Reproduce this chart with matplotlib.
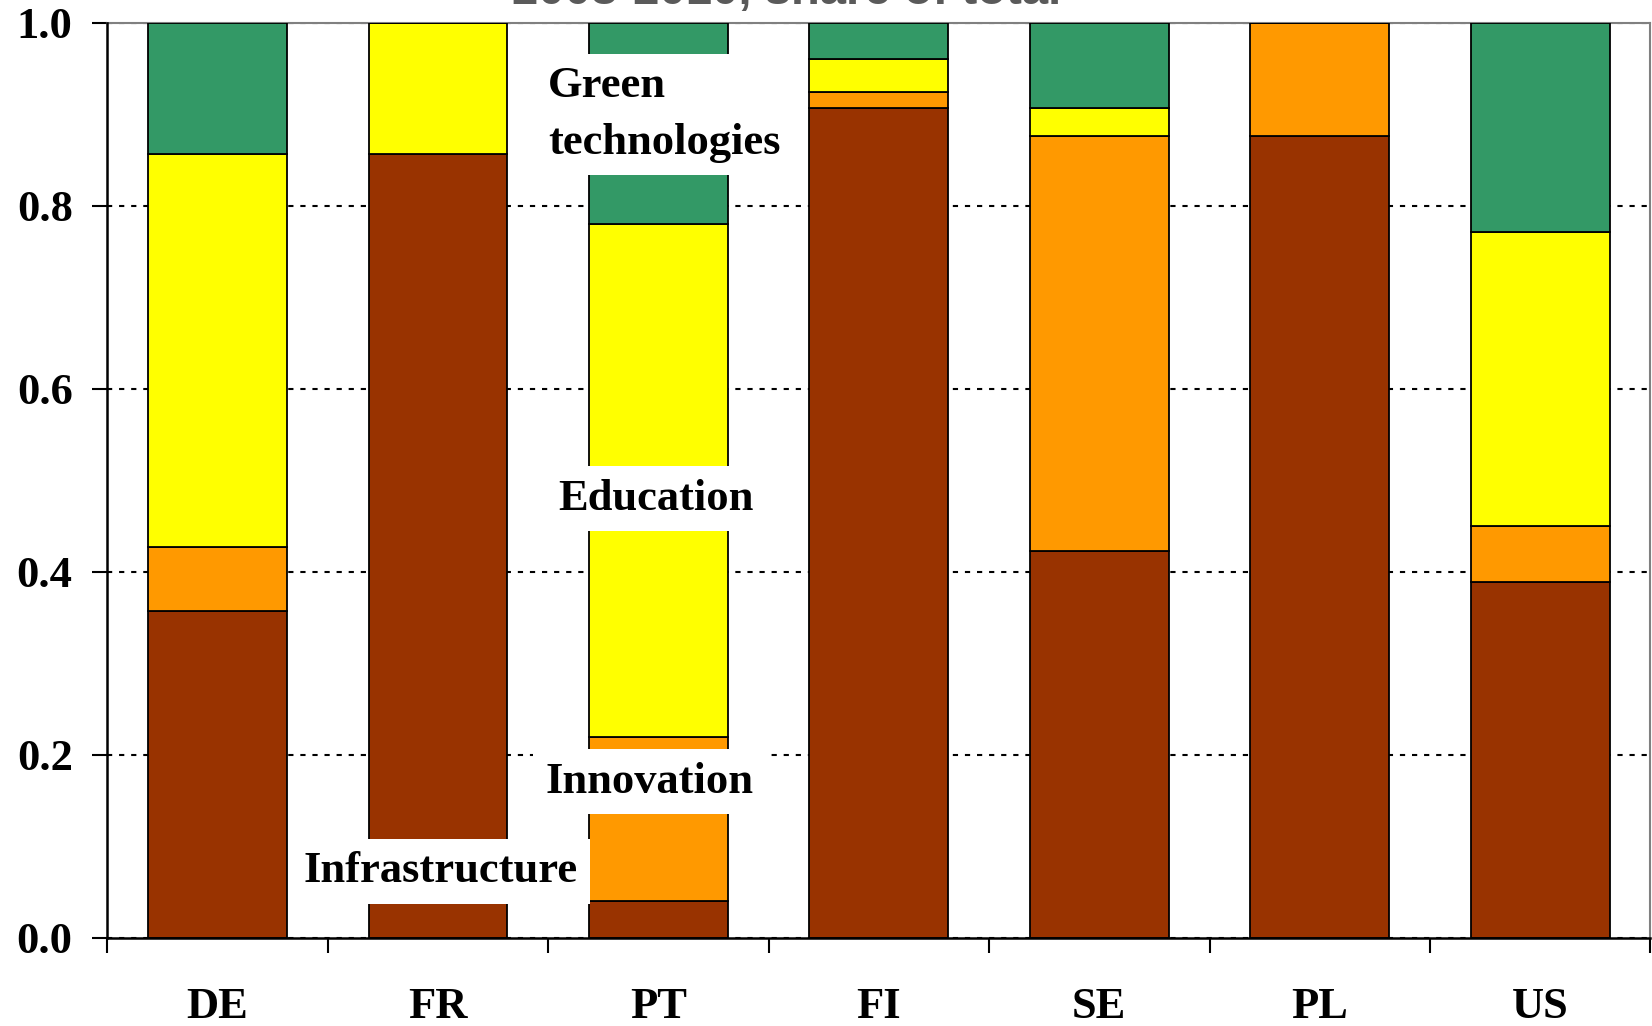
import numpy as np
import matplotlib.pyplot as plt
from matplotlib.ticker import FixedLocator, NullFormatter

# shares of total spending, 2008-2010
countries = ['DE', 'FR', 'PT', 'FI', 'SE', 'PL', 'US']
infrastructure = [0.357, 0.857, 0.040, 0.907, 0.423, 0.876, 0.389]
innovation = [0.070, 0.000, 0.180, 0.018, 0.453, 0.124, 0.061]
education = [0.430, 0.143, 0.560, 0.036, 0.031, 0.000, 0.322]
green_tech = [0.143, 0.000, 0.220, 0.039, 0.093, 0.000, 0.228]

series = [
    ('Infrastructure', infrastructure, '#993300'),
    ('Innovation', innovation, '#FF9900'),
    ('Education', education, '#FFFF00'),
    ('Green\ntechnologies', green_tech, '#339966'),
]

plt.rcParams['font.family'] = ['Liberation Serif', 'DejaVu Serif']
plt.rcParams['font.weight'] = 'bold'

fig = plt.figure(figsize=(16.52, 10.26), dpi=100)
ax = fig.add_axes([0.065, 0.0858, 0.934, 0.8918])

x = np.arange(len(countries))
bottom = np.zeros(len(countries))
for name, vals, col in series:
    vals = np.array(vals)
    ax.bar(x, vals, width=0.63, bottom=bottom, color=col,
           edgecolor='black', linewidth=1.3, zorder=3)
    bottom += vals

ax.set_xlim(-0.5, len(countries) - 0.5)
ax.set_ylim(0, 1.0)
ax.set_yticks(np.arange(0, 1.01, 0.2))
ax.set_yticklabels([f'{v:.1f}' for v in np.arange(0, 1.01, 0.2)])
ax.set_xticks(x)
ax.set_xticklabels(countries)
ax.xaxis.set_minor_locator(FixedLocator(np.arange(-0.5, len(countries), 1.0)))
ax.xaxis.set_minor_formatter(NullFormatter())

ax.tick_params(axis='x', which='major', length=0, pad=35, labelsize=32)
ax.tick_params(axis='x', which='minor', length=11, width=1.5, direction='out')
ax.tick_params(axis='y', length=11, width=1.5, direction='out', pad=14,
               labelsize=32)

ax.grid(axis='y', color='black', linestyle=(0, (2.5, 3.3)), linewidth=1.5,
        zorder=1)

for side in ['left', 'bottom']:
    ax.spines[side].set_linewidth(1.8)
    ax.spines[side].set_zorder(4)
for side in ['top', 'right']:
    ax.spines[side].set_color('#808080')
    ax.spines[side].set_linewidth(1.5)

# series labels on white boxes
box = dict(facecolor='white', edgecolor='none', pad=9)
lab_size = 32
ax.text(1.50, 0.900, series[3][0], ha='left', va='center', fontsize=lab_size,
        linespacing=1.55, bbox=box, zorder=5)
ax.text(1.99, 0.480, series[2][0], ha='center', va='center',
        fontsize=lab_size, bbox=box, zorder=5)
ax.text(1.96, 0.171, series[1][0], ha='center', va='center',
        fontsize=lab_size, bbox=box, zorder=5)
ax.text(1.01, 0.073, series[0][0], ha='center', va='center',
        fontsize=lab_size, bbox=box, zorder=5)

fig.text(0.476, 0.996, '2008-2010, share of total', ha='center',
         va='baseline', fontsize=34, color='#5a5a5a',
         family=['Liberation Sans', 'DejaVu Sans'], weight='bold')

fig.savefig('out.png', dpi=100)
